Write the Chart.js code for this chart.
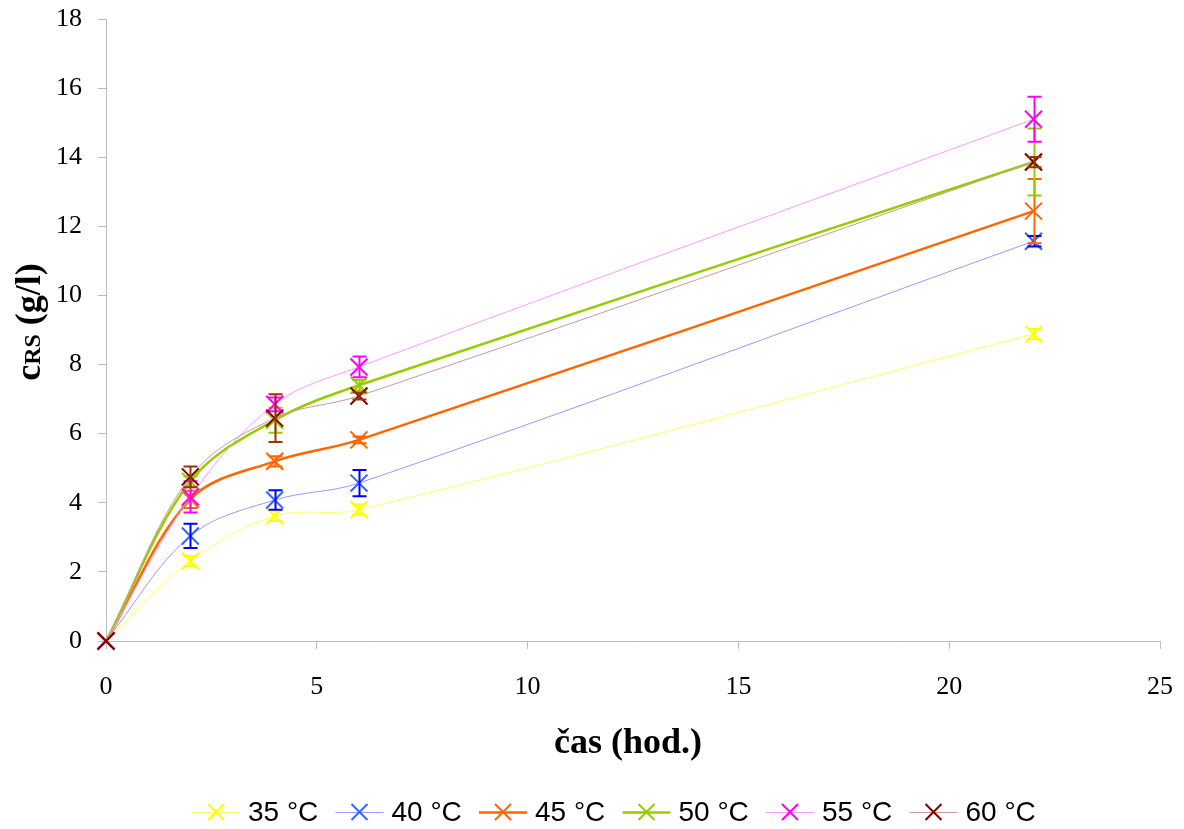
<!DOCTYPE html>
<html>
<head>
<meta charset="utf-8">
<title>cRS v čase</title>
<script src="https://cdn.jsdelivr.net/npm/chart.js@4.4.1/dist/chart.umd.min.js"></script>
<style>
  html, body { margin: 0; padding: 0; background: #ffffff; }
  #wrap { width: 1184px; height: 829px; }
</style>
</head>
<body>
<div id="wrap"><canvas id="c" width="1184" height="829"></canvas></div>
<script>
// sampling times (hours)
const times = [0, 2, 4, 6, 22];

// series labels
const labels = ['35 °C', '40 °C', '45 °C', '50 °C', '55 °C', '60 °C'];

// reducing sugars concentration (g/l)
const c35 = [0, 2.31, 3.62, 3.80, 8.88];
const c40 = [0, 3.04, 4.08, 4.57, 11.57];
const c45 = [0, 4.10, 5.20, 5.82, 12.44];
const c50 = [0, 4.62, 6.39, 7.40, 13.86];
const c55 = [0, 4.17, 6.85, 7.93, 15.10];
const c60 = [0, 4.75, 6.45, 7.09, 13.86];

// standard deviations (g/l)
const e35 = [0, 0.15, 0.15, 0.15, 0.15];
const e40 = [0, 0.35, 0.28, 0.38, 0.15];
const e45 = [0, 0.25, 0.15, 0.10, 0.93];
const e50 = [0, 0.15, 0.36, 0.15, 0.97];
const e55 = [0, 0.45, 0.20, 0.30, 0.65];
const e60 = [0, 0.30, 0.69, 0.10, 0.15];

// axis ticks
const yTicks = [0, 2, 4, 6, 8, 10, 12, 14, 16, 18];
const xTicks = [0, 5, 10, 15, 20, 25];

const values = [c35, c40, c45, c50, c55, c60];
const errors = [e35, e40, e45, e50, e55, e60];

const lineColors   = ['#FFFF66', '#9999FF', '#FF6600', '#99CC00', '#FF99FF', '#CC9999'];
const markerColors = ['#FFFF00', '#3366FF', '#FF6600', '#99CC00', '#FF00FF', '#800000'];
const errorColors  = ['#FFFF00', '#0000FF', '#FF6600', '#99CC00', '#FF00FF', '#993300'];
const lineWidths   = [1, 1, 2.5, 2.5, 1, 1];

const datasets = values.map((vals, i) => ({
  label: labels[i],
  data: times.map((t, k) => ({ x: t, y: vals[k] })),
  borderColor: lineColors[i],
  borderWidth: lineWidths[i],
  backgroundColor: markerColors[i],
  pointStyle: 'crossRot',
  pointRadius: 12,
  pointHoverRadius: 12,
  pointBorderColor: markerColors[i],
  pointBorderWidth: 2,
  tension: 0.35,
  fill: false,
  clip: false,
  order: values.length - 1 - i
}));

const serif = '"Liberation Serif", "Times New Roman", serif';
const sans = '"Liberation Sans", Arial, sans-serif';

// error bars, axis titles and the legend row
const decorations = {
  id: 'decorations',
  afterDatasetDraw(chart, args) {
    const i = args.index;
    const err = errors[i];
    const xs = chart.scales.x, ys = chart.scales.y;
    const ctx = chart.ctx;
    ctx.save();
    ctx.strokeStyle = errorColors[i];
    ctx.lineWidth = 2;
    times.forEach((t, k) => {
      if (!err[k]) return;
      const px = Math.round(xs.getPixelForValue(t)) + 0.5;
      const top = ys.getPixelForValue(values[i][k] + err[k]);
      const bot = ys.getPixelForValue(values[i][k] - err[k]);
      ctx.beginPath();
      ctx.moveTo(px, top); ctx.lineTo(px, bot);
      ctx.moveTo(px - 7, top); ctx.lineTo(px + 7, top);
      ctx.moveTo(px - 7, bot); ctx.lineTo(px + 7, bot);
      ctx.stroke();
    });
    ctx.restore();
  },
  afterDraw(chart) {
    const ctx = chart.ctx;
    ctx.save();
    ctx.fillStyle = '#000000';

    // x-axis title
    ctx.font = 'bold 36px ' + serif;
    ctx.textAlign = 'center';
    ctx.textBaseline = 'middle';
    ctx.fillText('čas (hod.)', 628, 744);

    // y-axis title: c with RS index, then unit
    ctx.translate(31, 322);
    ctx.rotate(-Math.PI / 2);
    ctx.textAlign = 'left';
    ctx.textBaseline = 'alphabetic';
    const bigFont = 'bold 36px ' + serif;
    const smallFont = 'bold 24px ' + serif;
    ctx.font = bigFont;  const w1 = ctx.measureText('c').width;
    ctx.font = smallFont; const w2 = ctx.measureText('RS').width;
    ctx.font = bigFont;  const w3 = ctx.measureText(' (g/l)').width;
    let x0 = -(w1 + w2 + w3) / 2;
    const base = 9;
    ctx.font = bigFont;  ctx.fillText('c', x0, base); x0 += w1;
    ctx.font = smallFont; ctx.fillText('RS', x0, base); x0 += w2;
    ctx.font = bigFont;  ctx.fillText(' (g/l)', x0, base);
    ctx.restore();

    // legend
    ctx.save();
    const ly = 812;
    let lx = 192;
    chart.data.datasets.forEach((ds, i) => {
      ctx.strokeStyle = lineColors[i];
      ctx.lineWidth = lineWidths[i];
      ctx.beginPath();
      ctx.moveTo(lx, ly + 0.5); ctx.lineTo(lx + 48, ly + 0.5);
      ctx.stroke();
      ctx.strokeStyle = markerColors[i];
      ctx.lineWidth = 2;
      const mx = lx + 24, r = 8;
      ctx.beginPath();
      ctx.moveTo(mx - r, ly - r); ctx.lineTo(mx + r, ly + r);
      ctx.moveTo(mx - r, ly + r); ctx.lineTo(mx + r, ly - r);
      ctx.stroke();
      ctx.fillStyle = '#000000';
      ctx.font = '28px ' + sans;
      ctx.textAlign = 'left';
      ctx.textBaseline = 'middle';
      ctx.fillText(ds.label, lx + 56, ly + 1);
      lx += 143.5;
    });
    ctx.restore();
  }
};

new Chart(document.getElementById('c'), {
  type: 'line',
  data: { datasets },
  options: {
    responsive: false,
    animation: false,
    devicePixelRatio: 1,
    layout: { padding: { top: 19, right: 24, left: 0, bottom: 0 } },
    plugins: {
      legend: { display: false },
      tooltip: { enabled: false },
      title: { display: false }
    },
    scales: {
      x: {
        type: 'linear',
        min: xTicks[0],
        max: xTicks[xTicks.length - 1],
        afterBuildTicks: s => { s.ticks = xTicks.map(v => ({ value: v })); },
        afterFit: s => { s.height = 188; s.paddingLeft = 0; s.paddingRight = 0; },
        grid: { drawOnChartArea: false, drawTicks: true, tickLength: 8, color: '#BDBDBD', lineWidth: 1 },
        border: { color: '#BDBDBD', width: 1 },
        ticks: { font: { family: serif, size: 26 }, color: '#000000', padding: 23, maxRotation: 0 }
      },
      y: {
        type: 'linear',
        min: yTicks[0],
        max: yTicks[yTicks.length - 1],
        afterBuildTicks: s => { s.ticks = yTicks.map(v => ({ value: v })); },
        afterFit: s => { s.width = 106; s.paddingTop = 0; s.paddingBottom = 0; },
        grid: { drawOnChartArea: false, drawTicks: true, tickLength: 8, color: '#BDBDBD', lineWidth: 1 },
        border: { color: '#BDBDBD', width: 1 },
        ticks: { font: { family: serif, size: 26 }, color: '#000000', padding: 16 }
      }
    }
  },
  plugins: [decorations]
});
</script>
</body>
</html>
